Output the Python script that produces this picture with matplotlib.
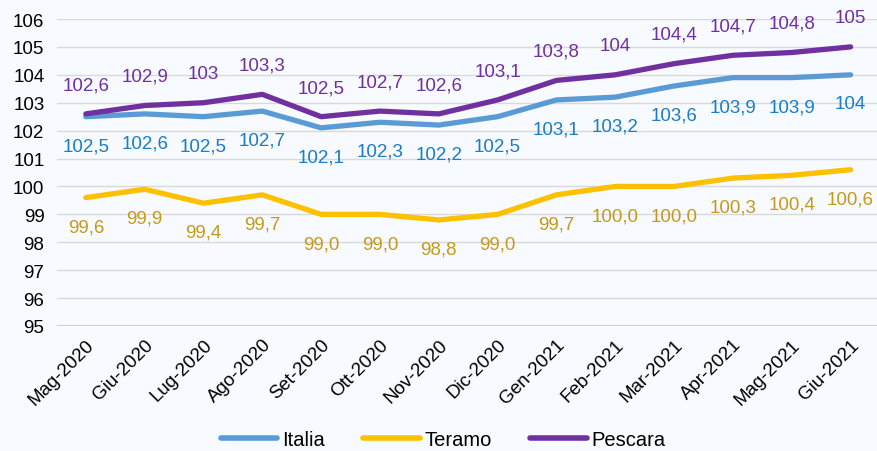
import matplotlib.pyplot as plt

plt.rcParams['font.family'] = ['Liberation Sans', 'DejaVu Sans']

# mesi e indici
mesi = ['Mag-2020', 'Giu-2020', 'Lug-2020', 'Ago-2020', 'Set-2020', 'Ott-2020',
        'Nov-2020', 'Dic-2020', 'Gen-2021', 'Feb-2021', 'Mar-2021', 'Apr-2021',
        'Mag-2021', 'Giu-2021']
italia = [102.5, 102.6, 102.5, 102.7, 102.1, 102.3, 102.2, 102.5, 103.1, 103.2,
          103.6, 103.9, 103.9, 104.0]
teramo = [99.6, 99.9, 99.4, 99.7, 99.0, 99.0, 98.8, 99.0, 99.7, 100.0,
          100.0, 100.3, 100.4, 100.6]
pescara = [102.6, 102.9, 103.0, 103.3, 102.5, 102.7, 102.6, 103.1, 103.8, 104.0,
           104.4, 104.7, 104.8, 105.0]

bg = '#F7FAFE'
fig = plt.figure(figsize=(8.78, 4.52), dpi=100, facecolor=bg)
ax = fig.add_axes([57 / 878, 125 / 452, 823 / 878, 307 / 452])
ax.set_facecolor(bg)

x = list(range(len(mesi)))
ax.plot(x, italia, color='#5B9BD5', lw=3.8, solid_capstyle='round', label='Italia', zorder=3)
ax.plot(x, teramo, color='#FFC000', lw=3.8, solid_capstyle='round', label='Teramo', zorder=3)
ax.plot(x, pescara, color='#7030A0', lw=3.8, solid_capstyle='round', label='Pescara', zorder=4)


def fmt(v, keep_int):
    if keep_int and v == int(v):
        return str(int(v))
    return ('%.1f' % v).replace('.', ',')


for i in x:
    ax.annotate(fmt(pescara[i], True), (i, pescara[i]), xytext=(0, 21),
                textcoords='offset points', ha='center', va='center',
                color='#7030A0', fontsize=13.5)
    ax.annotate(fmt(italia[i], True), (i, italia[i]), xytext=(0, -21),
                textcoords='offset points', ha='center', va='center',
                color='#1A7DC6', fontsize=13.5)
    ax.annotate(fmt(teramo[i], False), (i, teramo[i]), xytext=(0, -21),
                textcoords='offset points', ha='center', va='center',
                color='#C49A1C', fontsize=13.5)

ax.set_xlim(-0.49, 13.5)
ax.set_ylim(95, 106)
ax.set_yticks(range(95, 107))
ax.set_xticks(x)
ax.set_xticklabels(mesi, rotation=45, ha='right', rotation_mode='anchor')
ax.tick_params(axis='both', length=0, labelsize=13.5, colors='black')
ax.tick_params(axis='x', pad=7)
ax.tick_params(axis='y', pad=9)
ax.grid(axis='y', color='#D9D9D9', lw=1)
ax.set_axisbelow(True)
for s in ax.spines.values():
    s.set_visible(False)
ax.axhline(95, color='#D0D0D4', lw=1.5, zorder=1)

leg = fig.legend(loc='lower center', bbox_to_anchor=(0.505, -0.035), ncol=3, frameon=False,
                 fontsize=14.5, handlelength=2.8, columnspacing=1.9, handletextpad=0.25)
for h in leg.get_lines():
    h.set_linewidth(4)
    h.set_solid_capstyle('round')

fig.savefig('out.png', dpi=100, facecolor=bg)
